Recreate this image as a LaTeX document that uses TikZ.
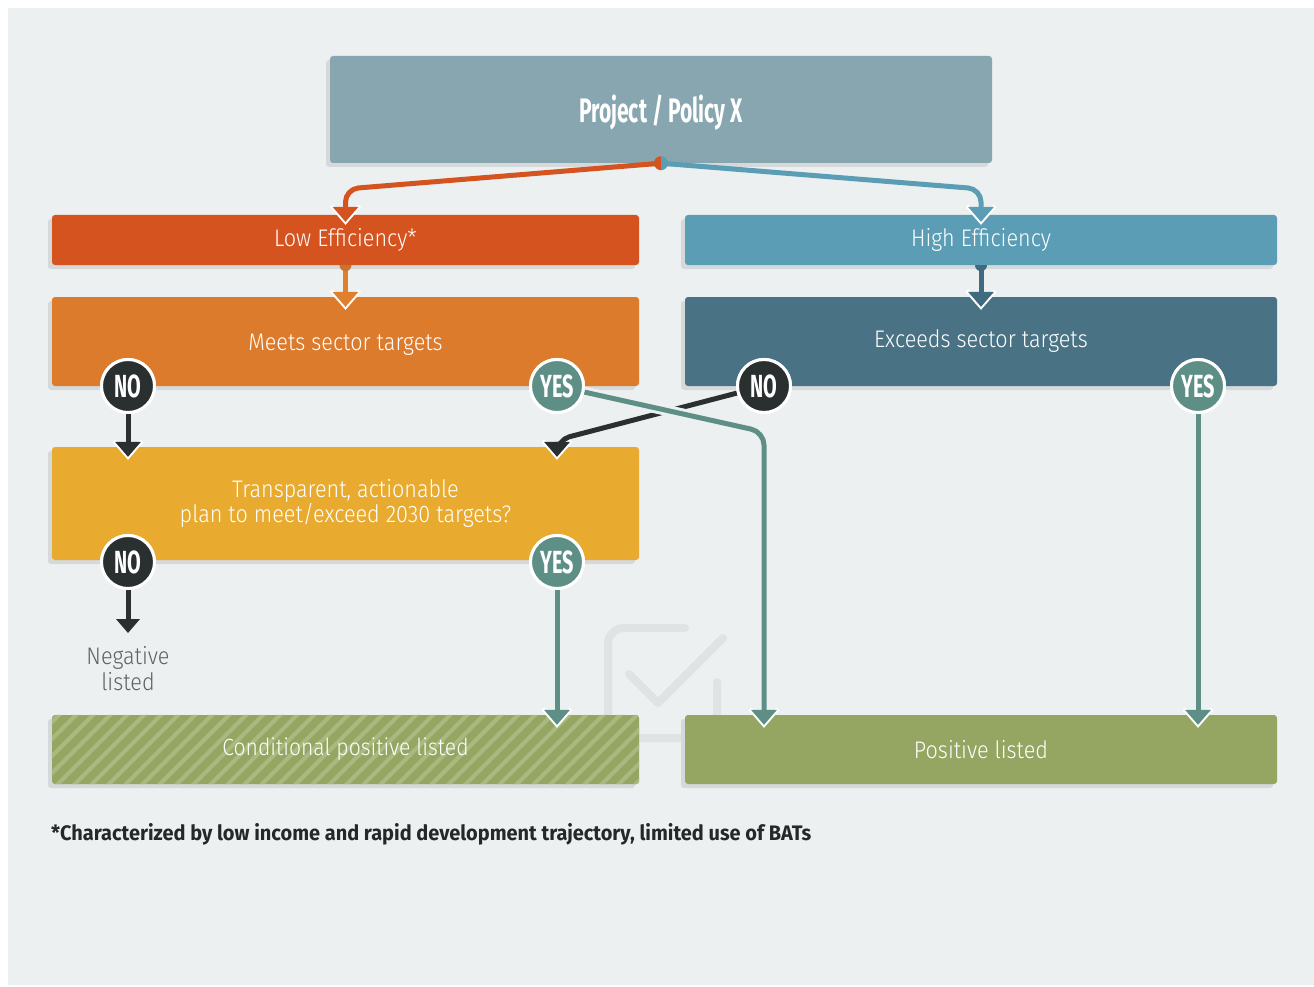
\documentclass[tikz,border=0pt]{standalone}
\usepackage{fontspec}
\setmainfont{Fira Sans Light}[FakeStretch=0.9]
\newfontfamily\bcond{Fira Sans}[FakeStretch=0.62]
\newfontfamily\fnote{Fira Sans}[FakeStretch=0.95]
\usetikzlibrary{shadows}
\definecolor{bgc}{HTML}{EDF0F0}
\definecolor{topc}{HTML}{88A6B0}
\definecolor{lowc}{HTML}{D4531F}
\definecolor{highc}{HTML}{5B9DB5}
\definecolor{meetc}{HTML}{DD7B2D}
\definecolor{meetline}{HTML}{E0802E}
\definecolor{meetknob}{HTML}{C9732C}
\definecolor{exceedc}{HTML}{4A7285}
\definecolor{exceedknob}{HTML}{3F6A80}
\definecolor{transc}{HTML}{E8AA2F}
\definecolor{greenc}{HTML}{94A662}
\definecolor{stripec}{HTML}{A9BA80}
\definecolor{darkc}{HTML}{29302F}
\definecolor{tealc}{HTML}{5E8F87}
\definecolor{shadowc}{HTML}{D5D9DA}
\definecolor{wmc}{HTML}{DFE3E4}
\definecolor{negc}{HTML}{5C6263}
\definecolor{fnc}{HTML}{232828}
\newcommand\tipat[2]{%
  \draw[white, line width=4pt, line join=miter] ([xshift=-14pt,yshift=16pt]#1) -- (#1) -- ([xshift=14pt,yshift=16pt]#1);
  \fill[#2] ([xshift=-13pt,yshift=15pt]#1) -- ([xshift=13pt,yshift=15pt]#1) -- (#1) -- cycle;}
\newcommand\plaintip[2]{%
  \fill[#2] ([xshift=-12pt,yshift=14pt]#1) -- ([xshift=12pt,yshift=14pt]#1) -- (#1) -- cycle;}
\begin{document}
\begin{tikzpicture}[x=1pt,y=-1pt,
  box/.style={rectangle, rounded corners=3pt, inner sep=0pt, text=white,
    font=\fontsize{24}{25}\selectfont, align=center,
    drop shadow={shadow xshift=-4pt, shadow yshift=-4pt, opacity=1, fill=shadowc}},
  boxtext/.style={text=white, font=\fontsize{24}{25}\selectfont, align=center, inner sep=0pt},
  circ/.style={circle, minimum size=53pt, inner sep=0pt, draw=white, line width=3pt,
    text=white, font=\bcond\bfseries\fontsize{32}{32}\selectfont},
  conn/.style={line width=5pt, rounded corners=13pt}]
\useasboundingbox (0,0) rectangle (1314,987);
\fill[bgc] (8,8) rectangle (1314,985);
% watermark
\draw[wmc, line width=8pt, line cap=round, rounded corners=16pt]
  (685,628) -- (608,628) -- (608,738) -- (717,738) -- (717,682);
\draw[wmc, line width=8pt, line cap=round, line join=round]
  (629,674) -- (658,703) -- (723,638);
% boxes
\node[box, fill=topc, minimum width=662pt, minimum height=107pt] (top) at (661,109.5) {};
\node[boxtext, font=\bcond\bfseries\fontsize{34}{40}\selectfont] (topt) at ([yshift=-3pt]top.center) {Project / Policy X};
\node[box, fill=lowc, minimum width=587pt, minimum height=50pt] (low) at (345.5,240) {\raisebox{-1pt}{Low Efficiency*}};
\node[box, fill=highc, minimum width=592pt, minimum height=50pt] (high) at (981,240) {\raisebox{-1pt}{High Efficiency}};
\node[box, fill=meetc, minimum width=587pt, minimum height=89pt] (meets) at (345.5,341.5) {};
\node[boxtext] (meetst) at ([yshift=-3pt]meets.center) {Meets sector targets};
\node[box, fill=exceedc, minimum width=592pt, minimum height=89pt] (exceeds) at (981,341.5) {Exceeds sector targets};
\node[box, fill=transc, minimum width=587pt, minimum height=113pt] (trans) at (345.5,503.5) {Transparent, actionable\\plan to meet/exceed 2030 targets?};
\node[box, fill=greenc, minimum width=587pt, minimum height=69pt] (cond) at (345.5,749.5) {};
\begin{scope}
  \clip[rounded corners=3pt] (cond.south west) rectangle (cond.north east);
  \foreach \k in {-85,-68,...,620} \draw[stripec, line width=4pt] (52+\k,790) -- (52+\k+80,710);
\end{scope}
\node[boxtext, font=\fontsize{23.5}{25}\selectfont] (condt) at (cond) {Conditional positive listed};
\node[box, fill=greenc, minimum width=592pt, minimum height=69pt] (pos) at (981,749.5) {Positive listed};
% labels
\node[text=negc, font=\fontsize{24}{26}\selectfont, align=center, inner sep=0pt] (neg) at (128,669) {Negative\\listed};
\node[anchor=west, text=fnc, font=\fnote\bfseries\fontsize{21}{24}\selectfont, inner sep=0pt] (fn) at (51,834)
  {*Characterized by low income and rapid development trajectory, limited use of BATs};
% circles
\node[circ, fill=darkc] (no1) at (128,386) {NO};
\node[circ, fill=tealc] (yes1) at (557,386) {YES};
\node[circ, fill=darkc] (no2) at (764,386) {NO};
\node[circ, fill=tealc] (yes2) at (1198,386) {YES};
\node[circ, fill=darkc] (no3) at (128,562) {NO};
\node[circ, fill=tealc] (yes3) at (557,562) {YES};
% tip coordinates
\coordinate (lowtip) at ([yshift=-7pt]low.north);
\coordinate (hightip) at ([yshift=-7pt]high.north);
\coordinate (meetstip) at ([yshift=-10pt]meets.north);
\coordinate (exctip) at ([yshift=-10pt]exceeds.north);
\coordinate (transtip1) at ([yshift=-10pt]trans.north -| no1);
\coordinate (transtip2) at ([yshift=-10pt]trans.north -| yes1);
\coordinate (condtip) at ([yshift=-10pt]cond.north -| yes3);
\coordinate (postip1) at ([yshift=-10pt]pos.north -| no2);
\coordinate (postip2) at ([yshift=-10pt]pos.north -| yes2);
\coordinate (negtip) at (128,633);
% connectors top
\draw[conn, lowc] (top.south) -- (lowtip |- 0,189) -- ([yshift=15pt]lowtip);
\draw[conn, highc] (top.south) -- (hightip |- 0,189) -- ([yshift=15pt]hightip);
\fill[lowc] (top.south) ++(0pt,7pt) arc[start angle=90, end angle=270, radius=7pt] -- cycle;
\fill[highc] (top.south) ++(0pt,-7pt) arc[start angle=-90, end angle=90, radius=7pt] -- cycle;
\tipat{lowtip}{lowc}
\tipat{hightip}{highc}
% efficiency to targets
\draw[meetline, line width=5pt] (low.south) -- ([yshift=15pt]meetstip);
\fill[meetknob] ([xshift=-6pt]low.south) arc[start angle=180, end angle=360, radius=6pt] -- cycle;
\tipat{meetstip}{meetline}
\draw[exceedknob, line width=5pt] (high.south) -- ([yshift=15pt]exctip);
\fill[exceedknob] ([xshift=-6pt]high.south) arc[start angle=180, end angle=360, radius=6pt] -- cycle;
\tipat{exctip}{exceedknob}
% decisions
\draw[conn, darkc] (no1) -- ([yshift=15pt]transtip1);
\tipat{transtip1}{darkc}
\draw[conn, darkc] (no2) -- (transtip2 |- 0,440) -- ([yshift=15pt]transtip2);
\tipat{transtip2}{darkc}
\draw[conn, tealc, preaction={draw=bgc, line width=11pt}] (yes1) -- (postip1 |- 0,432) -- ([yshift=15pt]postip1);
\tipat{postip1}{tealc}
\draw[conn, tealc] (yes2) -- ([yshift=15pt]postip2);
\tipat{postip2}{tealc}
\draw[conn, tealc] (yes3) -- ([yshift=15pt]condtip);
\tipat{condtip}{tealc}
\draw[conn, darkc] (no3) -- ([yshift=14pt]negtip);
\plaintip{negtip}{darkc}
% redraw circles on top
\node[circ, fill=darkc] at (no1) {NO};
\node[circ, fill=tealc] at (yes1) {YES};
\node[circ, fill=darkc] at (no2) {NO};
\node[circ, fill=tealc] at (yes2) {YES};
\node[circ, fill=darkc] at (no3) {NO};
\node[circ, fill=tealc] at (yes3) {YES};
\end{tikzpicture}
\end{document}
